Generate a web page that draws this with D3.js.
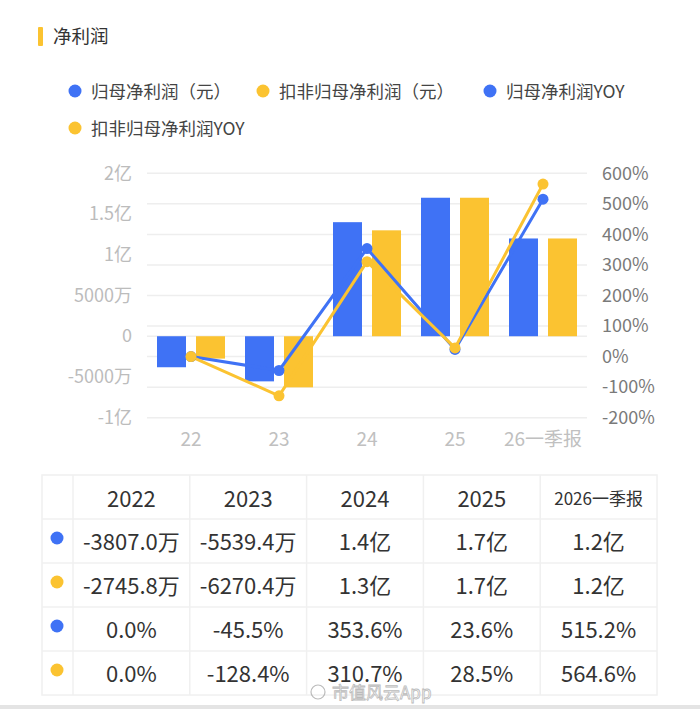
<!DOCTYPE html>
<html>
<head>
<meta charset="utf-8">
<script src="https://cdn.jsdelivr.net/npm/d3@7"></script>
<style>
  body { margin: 0; background: #fff; font-family: "Noto Sans CJK SC", "Noto Sans", sans-serif; }
</style>
</head>
<body>
<div id="chart"></div>
<script>
// data
const categories = ["22", "23", "24", "25", "26一季报"]
const tableHeads = ["2022", "2023", "2024", "2025", "2026一季报"]
const netProfit = [-0.3807, -0.55394, 1.4, 1.7, 1.2]        // 亿
const deductedProfit = [-0.27458, -0.62704, 1.3, 1.7, 1.2]   // 亿
const netYoy = [0.0, -45.5, 353.6, 23.6, 515.2]
const deductedYoy = [0.0, -128.4, 310.7, 28.5, 564.6]
const leftTicks = [-1, -0.5, 0, 0.5, 1, 1.5, 2]
const leftTickLabels = ["-1亿", "-5000万", "0", "5000万", "1亿", "1.5亿", "2亿"]
const rightTicks = [-200, -100, 0, 100, 200, 300, 400, 500, 600]
const tableRows = [
    ["-3807.0万", "-5539.4万", "1.4亿", "1.7亿", "1.2亿"],
    ["-2745.8万", "-6270.4万", "1.3亿", "1.7亿", "1.2亿"],
    ["0.0%", "-45.5%", "353.6%", "23.6%", "515.2%"],
    ["0.0%", "-128.4%", "310.7%", "28.5%", "564.6%"]
]
const legendItems = ["归母净利润（元）", "扣非归母净利润（元）", "归母净利润YOY", "扣非归母净利润YOY"]

const BLUE = "#3f72f5"
const YELLOW = "#fbc331"
const rowColors = [BLUE, YELLOW, BLUE, YELLOW]
const legendColors = [BLUE, YELLOW, BLUE, YELLOW]

const W = 700, H = 709
const svg = d3.select("#chart").append("svg")
    .attr("width", W).attr("height", H)

// title
svg.append("rect").attr("x", 38).attr("y", 27).attr("width", 5).attr("height", 19)
    .attr("fill", YELLOW).attr("rx", 1)
svg.append("text").attr("x", 53).attr("y", 43)
    .attr("font-size", 18.5).attr("fill", "#333").text("净利润")

// legend
const legendPos = [[75, 91], [263, 91], [490, 91], [75, 128]]
legendItems.forEach((name, i) => {
    const [lx, ly] = legendPos[i]
    svg.append("circle").attr("cx", lx).attr("cy", ly).attr("r", 6.5).attr("fill", legendColors[i])
    svg.append("text").attr("x", lx + 16).attr("y", ly + 6.5)
        .attr("font-size", 17.5).attr("fill", "#444").text(name)
})

// chart area
const plot = { left: 147, right: 587, top: 173.3, bottom: 417.7 }

const x = d3.scaleBand()
    .domain(categories)
    .range([plot.left, plot.right])

const yLeft = d3.scaleLinear().domain([-1, 2]).range([plot.bottom, plot.top])
const yRight = d3.scaleLinear().domain([-200, 600]).range([plot.bottom, plot.top])

// gridlines (right axis ticks)
svg.append("g")
    .selectAll("line")
    .data(rightTicks)
    .enter()
    .append("line")
    .attr("x1", plot.left).attr("x2", plot.right)
    .attr("y1", d => yRight(d)).attr("y2", d => yRight(d))
    .attr("stroke", "#eeeeee").attr("stroke-width", 1.5)

svg.append("line")
    .attr("x1", plot.left).attr("x2", plot.right)
    .attr("y1", yLeft(0)).attr("y2", yLeft(0))
    .attr("stroke", "#eeeeee").attr("stroke-width", 1.5)

// left axis
const leftAxis = svg.append("g")
    .attr("transform", `translate(${plot.left - 15},0)`)
    .call(d3.axisLeft(yLeft).tickValues(leftTicks)
        .tickFormat((d, i) => leftTickLabels[i]).tickSize(0).tickPadding(0))
leftAxis.select(".domain").remove()
leftAxis.selectAll("text")
    .attr("font-family", "Noto Sans CJK SC").attr("font-size", 18).attr("fill", "#bcbcbc")

// right axis
const rightAxis = svg.append("g")
    .attr("transform", `translate(${plot.right + 15},0)`)
    .call(d3.axisRight(yRight).tickValues(rightTicks)
        .tickFormat(d => d + "%").tickSize(0).tickPadding(0))
rightAxis.select(".domain").remove()
rightAxis.selectAll("text")
    .attr("font-family", "Noto Sans CJK SC").attr("font-size", 18).attr("fill", "#7a7a7a")

// x axis
const xAxis = svg.append("g")
    .attr("transform", `translate(0,${plot.bottom + 15})`)
    .call(d3.axisBottom(x).tickSize(0).tickPadding(0))
xAxis.select(".domain").remove()
xAxis.selectAll("text")
    .attr("font-family", "Noto Sans CJK SC").attr("font-size", 19).attr("fill", "#c0c0c0")
    .attr("dy", "0.72em")

// bars
const barW = 29, barPad = 10
const barSeries = [netProfit, deductedProfit]
barSeries.forEach((series, s) => {
    svg.append("g")
        .selectAll("rect")
        .data(series)
        .enter()
        .append("rect")
        .attr("x", (d, i) => x(categories[i]) + barPad + s * (barW + barPad))
        .attr("width", barW)
        .attr("y", d => yLeft(Math.max(0, d)))
        .attr("height", d => Math.abs(yLeft(d) - yLeft(0)))
        .attr("fill", s == 0 ? BLUE : YELLOW)
})

// yoy lines
const line = d3.line()
    .x((d, i) => x(categories[i]) + x.bandwidth() / 2)
    .y(d => yRight(d))

const lineSeries = [[netYoy, BLUE], [deductedYoy, YELLOW]]
lineSeries.forEach(([series, color]) => {
    svg.append("path")
        .datum(series)
        .attr("d", line)
        .attr("fill", "none")
        .attr("stroke", color)
        .attr("stroke-width", 3)
        .attr("stroke-linejoin", "round")
})
lineSeries.forEach(([series, color]) => {
    svg.append("g")
        .selectAll("circle")
        .data(series)
        .enter()
        .append("circle")
        .attr("cx", (d, i) => x(categories[i]) + x.bandwidth() / 2)
        .attr("cy", d => yRight(d))
        .attr("r", 5.5)
        .attr("fill", color)
})

// table
const table = { left: 42, dotCol: 73, right: 657, top: 475, headH: 44, rowH: 44 }
const colX = d3.scaleBand()
    .domain(tableHeads)
    .range([table.dotCol, table.right])
const tableBottom = table.top + table.headH + tableRows.length * table.rowH

const tg = svg.append("g")
tg.append("rect")
    .attr("x", table.left).attr("y", table.top)
    .attr("width", table.right - table.left).attr("height", tableBottom - table.top)
    .attr("fill", "none").attr("stroke", "#f0f0f0").attr("stroke-width", 1.5)

const vLines = [table.dotCol].concat(tableHeads.slice(1).map(h => colX(h)))
tg.selectAll(".vline")
    .data(vLines)
    .enter()
    .append("line")
    .attr("x1", d => d).attr("x2", d => d)
    .attr("y1", table.top).attr("y2", tableBottom)
    .attr("stroke", "#f0f0f0").attr("stroke-width", 1.5)

tg.selectAll(".hline")
    .data(tableRows.map((r, i) => table.top + table.headH + i * table.rowH))
    .enter()
    .append("line")
    .attr("x1", table.left).attr("x2", table.right)
    .attr("y1", d => d).attr("y2", d => d)
    .attr("stroke", "#f0f0f0").attr("stroke-width", 1.5)

tg.selectAll(".head")
    .data(tableHeads)
    .enter()
    .append("text")
    .attr("x", d => colX(d) + colX.bandwidth() / 2)
    .attr("y", table.top + table.headH / 2 + 2)
    .attr("dy", "0.36em")
    .attr("text-anchor", "middle")
    .attr("font-size", d => d.length > 4 ? 17 : 22)
    .attr("fill", "#333")
    .text(d => d)

tableRows.forEach((row, r) => {
    const cy = table.top + table.headH + r * table.rowH + table.rowH / 2
    tg.append("circle")
        .attr("cx", 57).attr("cy", cy - 3).attr("r", 6.5)
        .attr("fill", rowColors[r])
    tg.selectAll(".cell-" + r)
        .data(row)
        .enter()
        .append("text")
        .attr("x", (d, i) => colX(tableHeads[i]) + colX.bandwidth() / 2)
        .attr("y", cy + 1)
        .attr("dy", "0.36em")
        .attr("text-anchor", "middle")
        .attr("font-size", 22)
        .attr("fill", "#333")
        .text(d => d)
})

// watermark
svg.append("text").attr("x", 332).attr("y", 699)
    .attr("font-size", 17).attr("fill", "#ffffff").attr("fill-opacity", 0.6)
    .attr("stroke", "#bbbbbb").attr("stroke-width", 0.8)
    .text("市值风云App")
svg.append("circle").attr("cx", 318).attr("cy", 692).attr("r", 7)
    .attr("fill", "none").attr("stroke", "#bbbbbb").attr("stroke-width", 1.2)

// bottom edge
svg.append("rect").attr("x", 0).attr("y", 705).attr("width", W).attr("height", 4)
    .attr("fill", "#e4e4e4")
</script>
</body>
</html>
